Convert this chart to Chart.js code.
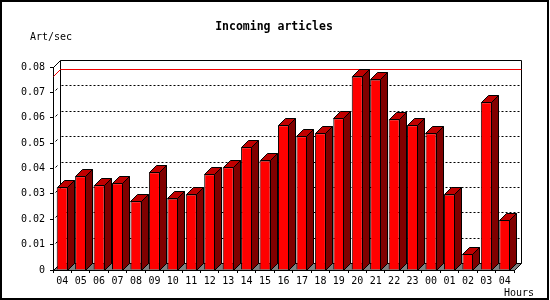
<!DOCTYPE html>
<html>
<head>
<meta charset="utf-8">
<script src="https://cdn.jsdelivr.net/npm/chart.js@4.4.0/dist/chart.umd.min.js"></script>
<style>
  body { margin: 0; background: #fff; }
  #wrap { width: 550px; height: 300px; }
</style>
</head>
<body>
<div id="wrap"><canvas id="artChart" width="550" height="300"></canvas></div>
<script>
const hours = ['04', '05', '06', '07', '08', '09', '10', '11', '12', '13', '14', '15', '16',
  '17', '18', '19', '20', '21', '22', '23', '00', '01', '02', '03', '04'];
const artPerSec = [0.0326, 0.0369, 0.0334, 0.0342, 0.0271, 0.0385, 0.0282, 0.0298, 0.0377,
  0.0405, 0.0484, 0.0432, 0.0570, 0.0527, 0.0539, 0.0598, 0.0763, 0.0751, 0.0594, 0.0570,
  0.0539, 0.0298, 0.0064, 0.0661, 0.0198];
const yTicks = [0, 0.01, 0.02, 0.03, 0.04, 0.05, 0.06, 0.07, 0.08];

const DEPTH = 7;
const MONO = '"DejaVu Sans Mono", monospace';

// back wall, floor, dotted grid and the max line, drawn before the bars
const bar3d = {
  id: 'bar3d',
  beforeDatasetsDraw(chart) {
    const { ctx, chartArea: a, scales: { y } } = chart;
    const L = Math.round(a.left) + 0.5, R = Math.round(a.right) + 0.5;
    const B = Math.round(a.bottom) + 0.5, T = Math.round(a.top) + 0.5;
    ctx.save();
    ctx.lineWidth = 1;
    ctx.strokeStyle = '#000';

    // floor
    ctx.fillStyle = '#808080';
    ctx.beginPath();
    ctx.moveTo(L, B);
    ctx.lineTo(L + DEPTH, B - DEPTH);
    ctx.lineTo(R + DEPTH, B - DEPTH);
    ctx.lineTo(R, B);
    ctx.closePath();
    ctx.fill();
    ctx.stroke();

    // back frame
    ctx.beginPath();
    ctx.moveTo(L, T);
    ctx.lineTo(L + DEPTH, T - DEPTH);
    ctx.lineTo(R + DEPTH, T - DEPTH);
    ctx.lineTo(R + DEPTH, B - DEPTH);
    ctx.moveTo(L + DEPTH, T - DEPTH);
    ctx.lineTo(L + DEPTH, B - DEPTH);
    ctx.stroke();

    // dotted grid on the back wall
    ctx.setLineDash([2, 2]);
    yTicks.slice(1, -1).forEach(v => {
      const py = Math.round(y.getPixelForValue(v)) - DEPTH + 0.5;
      ctx.beginPath();
      ctx.moveTo(L + DEPTH + 1, py);
      ctx.lineTo(R + DEPTH, py);
      ctx.stroke();
    });
    ctx.setLineDash([]);

    // little tick marks on the side wall
    yTicks.slice(1, -1).forEach(v => {
      const py = Math.round(y.getPixelForValue(v)) + 0.5;
      ctx.beginPath();
      ctx.moveTo(L + 2, py - 2);
      ctx.lineTo(L + 4, py - 4);
      ctx.stroke();
    });

    // max line
    const top = Math.round(y.getPixelForValue(Math.max(...artPerSec))) + 0.5;
    ctx.strokeStyle = '#f00000';
    ctx.beginPath();
    ctx.moveTo(L, top);
    ctx.lineTo(L + DEPTH, top - DEPTH);
    ctx.lineTo(R + DEPTH, top - DEPTH);
    ctx.stroke();
    ctx.restore();
  },
  afterDatasetsDraw(chart) {
    const { ctx } = chart;
    const bars = chart.getDatasetMeta(0).data;
    ctx.save();
    ctx.lineWidth = 1;
    ctx.strokeStyle = '#000';
    ctx.lineJoin = 'miter';
    bars.forEach(bar => {
      const l = Math.round(bar.x - bar.width / 2) + 0.5;
      const r = Math.round(bar.x + bar.width / 2) - 0.5;
      const t = Math.round(bar.y) + 0.5;
      const b = Math.round(bar.base) + 0.5;
      // side
      ctx.fillStyle = '#800000';
      ctx.beginPath();
      ctx.moveTo(r, t);
      ctx.lineTo(r + DEPTH, t - DEPTH);
      ctx.lineTo(r + DEPTH, b - DEPTH);
      ctx.lineTo(r, b);
      ctx.closePath();
      ctx.fill();
      ctx.stroke();
      // top
      ctx.fillStyle = '#c00000';
      ctx.beginPath();
      ctx.moveTo(l, t);
      ctx.lineTo(l + DEPTH, t - DEPTH);
      ctx.lineTo(r + DEPTH, t - DEPTH);
      ctx.lineTo(r, t);
      ctx.closePath();
      ctx.fill();
      ctx.stroke();
    });
    ctx.restore();
  },
  afterDraw(chart) {
    const { ctx } = chart;
    ctx.save();
    ctx.fillStyle = '#000';
    ctx.textBaseline = 'alphabetic';
    ctx.font = 'bold 11.5px ' + MONO;
    ctx.textAlign = 'center';
    ctx.fillText('Incoming articles', 274, 30);
    ctx.font = '10px ' + MONO;
    ctx.textAlign = 'left';
    ctx.fillText('Art/sec', 30, 40);
    ctx.fillText('Hours', 504, 296);
    ctx.lineWidth = 2;
    ctx.strokeStyle = '#000';
    ctx.strokeRect(1, 1, 547, 298);
    ctx.restore();
  }
};

const getChart = document.getElementById('artChart').getContext('2d');
const artChart = new Chart(getChart, {
  type: 'bar',
  data: {
    labels: hours,
    datasets: [{
      label: 'Incoming articles',
      data: artPerSec,
      backgroundColor: '#ff0000',
      borderColor: '#000000',
      borderWidth: 1,
      categoryPercentage: 1,
      barPercentage: 0.6
    }]
  },
  options: {
    responsive: false,
    animation: false,
    layout: { padding: { top: 67, right: 36, left: 0, bottom: 0 } },
    plugins: { legend: { display: false }, title: { display: false }, tooltip: { enabled: false } },
    scales: {
      x: {
        grid: { drawOnChartArea: false, drawTicks: true, tickLength: 3, color: '#000', offset: true },
        border: { display: true, color: '#000' },
        ticks: { color: '#000', font: { family: MONO, size: 10 }, padding: 2, maxRotation: 0, autoSkip: false },
        afterFit(scale) { scale.height = 30; }
      },
      y: {
        min: 0,
        max: 0.08,
        grid: { drawOnChartArea: false, drawTicks: true, tickLength: 3, color: '#000' },
        border: { display: true, color: '#000' },
        ticks: {
          color: '#000',
          font: { family: MONO, size: 10 },
          padding: 5,
          callback: v => String(+v.toFixed(2))
        },
        afterBuildTicks(scale) { scale.ticks = yTicks.map(v => ({ value: v })); },
        afterFit(scale) { scale.width = 53; }
      }
    }
  },
  plugins: [bar3d]
});
</script>
</body>
</html>
